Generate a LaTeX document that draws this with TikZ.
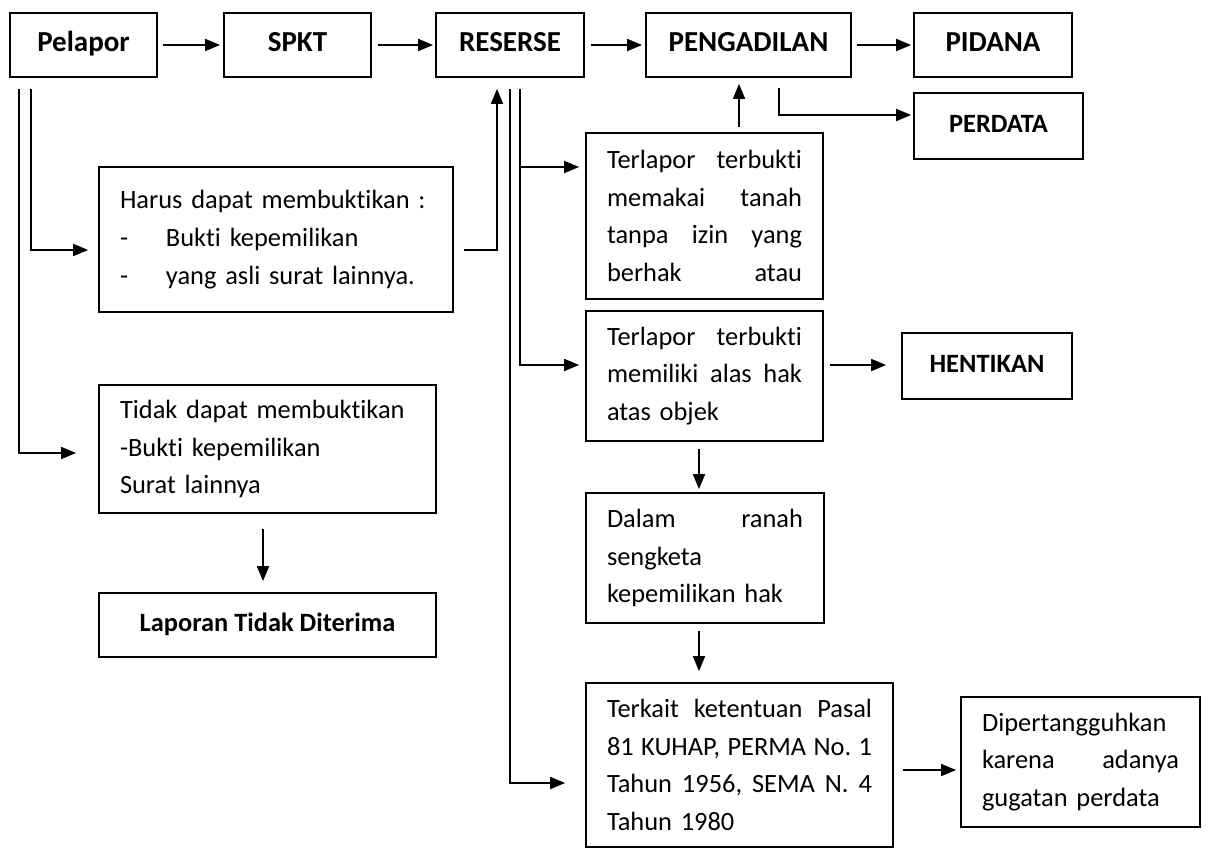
\documentclass[tikz,border=0pt]{standalone}
\usepackage{fontspec}
\setmainfont{Carlito}[Ligatures=NoCommon]
\usetikzlibrary{arrows.meta}
\begin{document}
\begin{tikzpicture}[x=1pt,y=-1pt,
  box/.style={draw, line width=1.8pt, rectangle, inner sep=0pt, align=center},
  tbox/.style={draw, line width=1.8pt, rectangle, inner xsep=21pt, inner ysep=0pt, align=left, font=\fontsize{26.4}{37.7}\selectfont},
  con/.style={line width=1.8pt, -{Triangle[length=15pt,width=12pt]}},
  bigb/.style={font=\fontsize{29}{35}\selectfont\bfseries, text height=18pt, text depth=4pt},
  midb/.style={font=\fontsize{26.4}{32}\selectfont\bfseries, text height=17pt, text depth=5pt}
]
\useasboundingbox (0,0) rectangle (1206,848);
% top row
\node[box,bigb,minimum width=147pt,minimum height=64pt] (pel) at (83.5,45) {Pelapor};
\node[box,bigb,minimum width=147pt,minimum height=64pt] (spkt) at (297.5,45) {SPKT};
\node[box,bigb,minimum width=148pt,minimum height=64pt] (res) at (510,45) {RESERSE};
\node[box,bigb,minimum width=205pt,minimum height=64pt] (peng) at (748.5,45) {PENGADILAN};
\node[box,bigb,minimum width=158pt,minimum height=64pt] (pid) at (993,45) {PIDANA};
\node[box,midb,minimum width=169pt,minimum height=66pt] (perd) at (998.5,126) {PERDATA};
% left column
\node[tbox,text width=312pt,minimum height=145pt] (harus) at (276,239.5) {Harus dapat membuktikan :\\\makebox[46pt][l]{-}Bukti kepemilikan\\\makebox[46pt][l]{-}yang asli surat lainnya.};
\node[tbox,text width=295pt,minimum height=128pt] (tidak) at (267.5,449) {Tidak dapat membuktikan\\-Bukti kepemilikan\\Surat lainnya};
\node[box,midb,minimum width=337pt,minimum height=64pt] (lap) at (267.5,625) {Laporan Tidak Diterima};
% middle column
\node[tbox,text width=195pt,minimum height=166pt] (t1) at (704.5,216) {Terlapor\hfill terbukti\\memakai\hfill tanah\\tanpa\hfill izin\hfill yang\\berhak\hfill atau};
\node[tbox,text width=195pt,minimum height=130pt] (t2) at (704.5,376) {Terlapor\hfill terbukti\\memiliki\hfill alas\hfill hak\\atas objek};
\node[box,midb,minimum width=170pt,minimum height=66pt] (hent) at (987,366) {HENTIKAN};
\node[tbox,text width=196pt,minimum height=130pt] (dalam) at (705,558) {Dalam\hfill ranah\\sengketa\\kepemilikan hak};
\node[tbox,text width=265pt,minimum height=164pt] (terk) at (739.5,765) {Terkait\hfill ketentuan\hfill Pasal\\81\hfill KUHAP,\hfill PERMA\hfill No.\hfill 1\\Tahun\hfill 1956,\hfill SEMA\hfill N.\hfill 4\\Tahun 1980};
\node[tbox,text width=197pt,minimum height=130pt] (dip) at (1080.5,762) {Dipertangguhkan\\karena\hfill adanya\\gugatan perdata};
% top arrows
\draw[con] ([xshift=5pt]pel.east) -- ([xshift=-3pt]spkt.west);
\draw[con] ([xshift=6pt]spkt.east) -- ([xshift=-2pt]res.west);
\draw[con] ([xshift=6pt]res.east) -- ([xshift=-3pt]peng.west);
\draw[con] ([xshift=5pt]peng.east) -- ([xshift=-2pt]pid.west);
\draw[con] ([xshift=30.5pt,yshift=-10pt]peng.south) |- ([xshift=-2pt,yshift=11pt]perd.west);
\draw[con] ([xshift=34.5pt,yshift=5pt]t1.north) -- ([xshift=-9.5pt,yshift=-6pt]peng.south);
% left branches from Pelapor
\coordinate (pa) at ([xshift=-64.5pt,yshift=-11pt]pel.south);
\coordinate (pb) at ([xshift=-52.5pt,yshift=-11pt]pel.south);
\draw[con] (pa) |- ([xshift=-22pt,yshift=-4pt]tidak.west);
\draw[con] (pb) |- ([xshift=-10pt,yshift=-10.5pt]harus.west);
\draw[con] ([xshift=10pt,yshift=-10.5pt]harus.east) -| ([xshift=-13pt,yshift=-11pt]res.south);
\draw[con] ([xshift=-4.5pt,yshift=-15pt]tidak.south) -- ([xshift=-4.5pt,yshift=11pt]lap.north);
% branches from Reserse
\coordinate (rc) at ([yshift=-11pt]res.south);
\coordinate (rd) at ([xshift=10pt,yshift=-11pt]res.south);
\coordinate (t1in) at ([xshift=-6pt,yshift=49pt]t1.west);
\draw[con] (rc) |- ([xshift=-20pt,yshift=-18pt]terk.west);
\draw[con] (rd) |- ([xshift=-6pt,yshift=11pt]t2.west);
\draw[con] (rd |- t1in) -- (t1in);
% right part
\draw[con] ([xshift=6pt,yshift=11pt]t2.east) -- ([xshift=-15pt,yshift=1pt]hent.west);
\draw[con] ([xshift=-5.5pt,yshift=-7pt]t2.south) -- ([xshift=-6pt,yshift=3pt]dalam.north);
\draw[con] ([xshift=-6pt,yshift=-7pt]dalam.south) -- ([xshift=-40.5pt,yshift=11pt]terk.north);
\draw[con] ([xshift=9pt,yshift=-5pt]terk.east) -- ([xshift=-4pt,yshift=-8pt]dip.west);
\end{tikzpicture}
\end{document}
